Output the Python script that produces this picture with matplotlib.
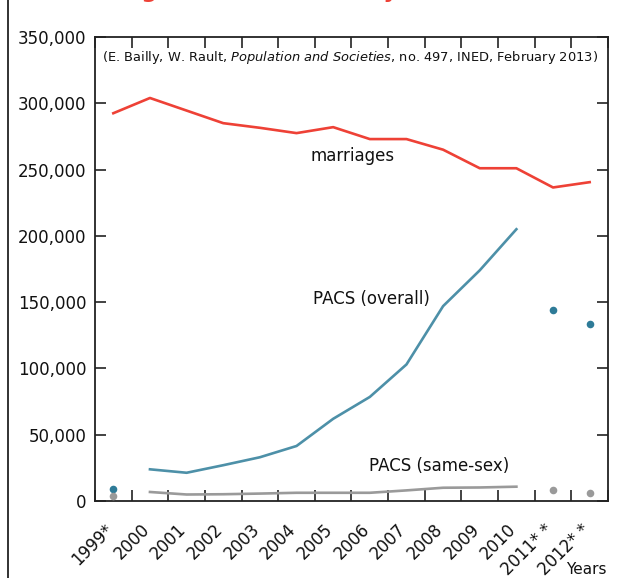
import matplotlib
matplotlib.use("Agg")
import matplotlib.pyplot as plt
import numpy as np
from matplotlib.ticker import FuncFormatter, FixedLocator, NullFormatter
from matplotlib.lines import Line2D
from matplotlib.transforms import ScaledTranslation, blended_transform_factory

years = ["1999*", "2000", "2001", "2002", "2003", "2004", "2005", "2006",
         "2007", "2008", "2009", "2010", "2011* *", "2012* *"]
marriages = [292500, 304000, 294500, 285000, 281500, 277500, 282000, 273000,
             273000, 265000, 251000, 251000, 236500, 240500]
pacs_line = [None, 23900, 21300, 27000, 33000, 41500, 62000, 78500,
             103000, 147000, 174000, 205000, None, None]
pacs_dots = {0: 8800, 12: 144200, 13: 133400}
same_line = [None, 6800, 4900, 5100, 5600, 6200, 6200, 6200,
             8000, 10000, 10200, 10800, None, None]
same_dots = {0: 3800, 12: 8300, 13: 6200}

RED = "#ee4136"
BLUE = "#4d90a8"
BLUE_DOT = "#2e7b98"
GRAY = "#9a9a9a"
W, H = 624, 578

plt.rcParams['font.family'] = ['DejaVu Sans']
plt.rcParams['mathtext.fontset'] = 'dejavusans'
fig = plt.figure(figsize=(W/100, H/100), dpi=100)
ax = fig.add_axes([95/W, 1-501/H, (608-95)/W, (501-37)/H])

x = np.arange(len(years))
ax.plot(x, marriages, color=RED, lw=1.9)
xi = [i for i, v in enumerate(pacs_line) if v is not None]
ax.plot(xi, [pacs_line[i] for i in xi], color=BLUE, lw=1.9)
xs = [i for i, v in enumerate(same_line) if v is not None]
ax.plot(xs, [same_line[i] for i in xs], color=GRAY, lw=1.9)
ax.scatter(list(pacs_dots.keys()), list(pacs_dots.values()), s=30, color=BLUE_DOT, zorder=3, linewidths=0)
ax.scatter(list(same_dots.keys()), list(same_dots.values()), s=30, color=GRAY, zorder=3, linewidths=0)

ax.set_xlim(-0.5, len(years) - 0.5)
ax.set_ylim(0, 350000)
ax.set_yticks(np.arange(0, 350001, 50000))
ax.yaxis.set_major_formatter(FuncFormatter(lambda v, p: f"{int(v):,}"))
ax.tick_params(axis='y', which='major', direction='in', length=8, width=1.2,
               labelsize=12, pad=6, left=True, right=True, colors='#222222', labelcolor='#111111')

ax.xaxis.set_major_locator(FixedLocator(np.arange(-0.5, len(years), 1.0)))
ax.xaxis.set_major_formatter(NullFormatter())
ax.tick_params(axis='x', which='major', direction='in', length=8, width=1.2,
               top=True, bottom=True, colors='#222222')

# category labels under the axis (rotated, baseline-anchored)
btrans = blended_transform_factory(ax.transData, ax.transAxes)
off = ScaledTranslation(0.5/100, -29.5/100, fig.dpi_scale_trans)
for i, lab in enumerate(years):
    t = ax.text(x[i], 0, lab, transform=btrans + off, rotation=45, rotation_mode='anchor',
                ha='right', va='baseline', fontsize=12, color='#111111', clip_on=False)

for s in ax.spines.values():
    s.set_linewidth(1.3)
    s.set_color('#222222')

def px(xp, yp):
    return xp / W, 1 - yp / H

fig.text(*px(353, 156), "marriages", fontsize=12, ha='center', va='center', color='#111111')
fig.text(*px(371, 299), "PACS (overall)", fontsize=12, ha='center', va='center', color='#111111')
fig.text(*px(439, 466), "PACS (same-sex)", fontsize=12, ha='center', va='center', color='#111111')

# source line
fig.text(*px(350, 58), r"(E. Bailly, W. Rault, $\it{Population\ and\ Societies}$, no. 497, INED, February 2013)",
         fontsize=9.4, ha='center', va='center', color='#111111')

fig.text(*px(607, 570), "Years", ha='right', va='center', fontsize=11, color='#111111')

# frame line at left
fig.add_artist(Line2D([8/W, 8/W], [0, 1], transform=fig.transFigure, color='#222222', lw=1.3))

# title above the visible area (only descenders show, as in the reference)
title = "Number of marriages and PACS each year"
fs = 14
renderer = fig.canvas.get_renderer()
def width(s, size):
    t = fig.text(0, 0, s, fontsize=size, fontweight='bold')
    w = t.get_window_extent(renderer).width
    t.remove()
    return w
g_pos = width("Number of marria", fs) + width("g", fs) / 2
y_pos = width("Number of marriages and PACS each ", fs) + width("y", fs) / 2
fs = fs * (390 - 149) / (y_pos - g_pos)
g_pos = width("Number of marria", fs) + width("g", fs) / 2
x0 = 149 - g_pos
fig.text(x0 / W, 1 + 2.3 / H, title, color=RED, fontsize=fs, fontweight='bold',
         ha='left', va='baseline')

fig.savefig("out.png", dpi=100)
